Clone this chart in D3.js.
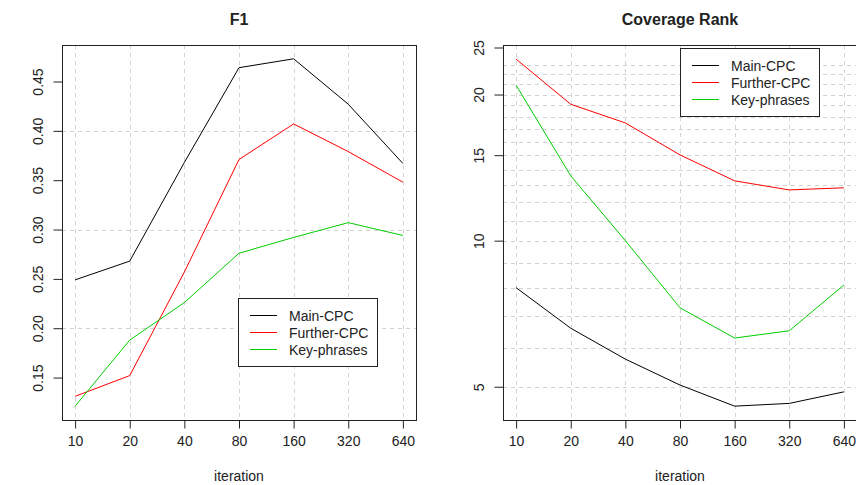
<!DOCTYPE html>
<html><head><meta charset="utf-8">
<script src="https://cdn.jsdelivr.net/npm/d3@7"></script>
<style>
html,body{margin:0;padding:0;background:#fff;}
svg{display:block;}
text{font-family:"Liberation Sans",Arial,Helvetica,sans-serif;fill:#222;}
</style></head>
<body>
<svg id="chart" width="856" height="485"></svg>
<script>
const iterations = [10, 20, 40, 80, 160, 320, 640];
const seriesNames = ["Main-CPC", "Further-CPC", "Key-phrases"];
const seriesColors = ["#000000", "#ff0000", "#00cd00"];

const f1Main = [0.249, 0.268, 0.368, 0.464, 0.473, 0.427, 0.367];
const f1Further = [0.131, 0.152, 0.257, 0.371, 0.407, 0.379, 0.348];
const f1Key = [0.121, 0.188, 0.226, 0.276, 0.292, 0.307, 0.294];

const covMain = [8.0, 6.6, 5.7, 5.04, 4.56, 4.62, 4.88];
const covFurther = [23.66, 19.1, 17.48, 15.02, 13.28, 12.72, 12.85];
const covKey = [20.9, 13.6, 10.0, 7.27, 6.30, 6.52, 8.10];

const f1Ticks = [0.15, 0.20, 0.25, 0.30, 0.35, 0.40, 0.45];
const f1Grid = [0.20, 0.30, 0.40];
const covTicks = [5, 10, 15, 20, 25];
const covGrid = d3.range(5, 24);

const svg = d3.select("#chart");
const ext = 0.24;

function panel(opts) {
  const {left, right, top, bottom, title, yScale, yTicks, yGrid, series, legend, yFmt} = opts;
  const x = d3.scaleLog().base(2)
    .domain([10 * Math.pow(2, -ext), 640 * Math.pow(2, ext)])
    .range([left, right]);
  const g = svg.append("g");

  // grid
  const grid = g.append("g").attr("stroke", "#d3d3d3").attr("stroke-dasharray", "4,4").attr("fill", "none");
  iterations.forEach(v => {
    const px = Math.round(x(v)) + 0.5;
    grid.append("line").attr("x1", px).attr("x2", px).attr("y1", top).attr("y2", bottom);
  });
  yGrid.forEach(v => {
    const py = Math.round(yScale(v)) + 0.5;
    grid.append("line").attr("x1", left).attr("x2", right).attr("y1", py).attr("y2", py);
  });

  // lines
  const line = d3.line().x((d, i) => x(iterations[i])).y(d => yScale(d));
  series.forEach((s, k) => {
    g.append("path").datum(s).attr("d", line).attr("fill", "none")
      .attr("stroke", seriesColors[k]).attr("stroke-width", 1);
  });

  // axes
  const xAxis = d3.axisBottom(x).tickValues(iterations).tickSize(8).tickPadding(8)
    .tickFormat(d => String(d));
  const xg = g.append("g").attr("transform", `translate(0,${Math.round(bottom) + 0.5})`).call(xAxis);
  xg.select(".domain").remove();
  xg.selectAll("text").attr("font-size", 14).attr("font-family", "Liberation Sans, Arial, sans-serif").attr("fill", "#222");
  xg.selectAll("line").attr("stroke", "#222");

  const yAxis = d3.axisLeft(yScale).tickValues(yTicks).tickSize(9).tickFormat(yFmt);
  const yg = g.append("g").attr("transform", `translate(${Math.round(left) + 0.5},0)`).call(yAxis);
  yg.select(".domain").remove();
  yg.selectAll("line").attr("stroke", "#222");
  yg.selectAll("text")
    .attr("font-size", 14).attr("font-family", "Liberation Sans, Arial, sans-serif").attr("fill", "#222")
    .attr("text-anchor", "middle").attr("dy", null).attr("x", null)
    .attr("transform", "translate(-20,0) rotate(-90)");

  // box
  g.append("rect").attr("x", Math.round(left) + 0.5).attr("y", Math.round(top) + 0.5)
    .attr("width", Math.round(right) - Math.round(left)).attr("height", Math.round(bottom) - Math.round(top))
    .attr("fill", "none").attr("stroke", "#222").attr("stroke-width", 1);

  // title
  g.append("text").attr("x", (left + right) / 2).attr("y", 25).attr("text-anchor", "middle")
    .attr("font-size", 16).attr("font-weight", "bold").attr("fill", "#000").text(title);
  g.append("text").attr("x", (left + right) / 2).attr("y", 481).attr("text-anchor", "middle")
    .attr("font-size", 14).text("iteration");

  // legend
  const lg = g.append("g");
  lg.append("rect").attr("x", legend.x + 0.5).attr("y", legend.y + 0.5).attr("width", legend.w).attr("height", legend.h)
    .attr("fill", "#fff").attr("stroke", "#222");
  seriesNames.forEach((n, k) => {
    const yy = legend.y + 17.5 + k * 17;
    lg.append("line").attr("x1", legend.x + 12).attr("x2", legend.x + 39).attr("y1", yy).attr("y2", yy)
      .attr("stroke", seriesColors[k]).attr("stroke-width", 1);
    lg.append("text").attr("x", legend.x + 51).attr("y", yy + 5).attr("font-size", 14).text(n);
  });
}

const plotTop = 45, plotBottom = 420;

panel({
  left: 62, right: 416, top: plotTop, bottom: plotBottom, title: "F1",
  yScale: d3.scaleLinear().domain([0.107, 0.487]).range([plotBottom, plotTop]),
  yTicks: f1Ticks, yGrid: f1Grid,
  yFmt: d3.format(".2f"),
  series: [f1Main, f1Further, f1Key],
  legend: {x: 238, y: 298, w: 139, h: 68}
});

panel({
  left: 503, right: 857, top: plotTop, bottom: plotBottom, title: "Coverage Rank",
  yScale: d3.scaleLog().domain([4.27, 25.3]).range([plotBottom, plotTop]),
  yTicks: covTicks, yGrid: covGrid,
  yFmt: d => String(d),
  series: [covMain, covFurther, covKey],
  legend: {x: 680, y: 48, w: 139, h: 68}
});
</script>
</body></html>
